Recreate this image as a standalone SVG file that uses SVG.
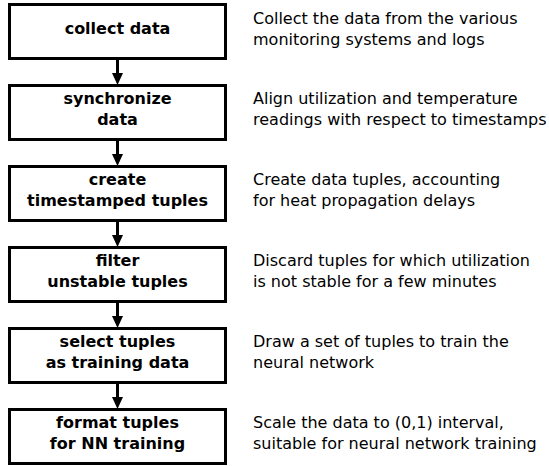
<svg xmlns="http://www.w3.org/2000/svg" width="549" height="466" viewBox="0 0 549 466">
<style>
.box{fill:#fff;stroke:#000;stroke-width:3}
.lbl{font-family:"DejaVu Sans",sans-serif;font-size:16px;font-weight:bold;text-anchor:middle;fill:#000}
.desc{font-family:"DejaVu Sans",sans-serif;font-size:16px;fill:#000}
.conn{stroke:#000;stroke-width:3;fill:none}
</style>
<defs>
<marker id="ah" markerWidth="12" markerHeight="11" refX="0" refY="5.5" orient="auto" markerUnits="userSpaceOnUse" viewBox="0 0 12 11">
<path d="M0,0 L12,5.5 L0,11 z" fill="#000"/>
</marker>
</defs>
<rect width="549" height="466" fill="#fff"/>
<g id="connectors">
<line class="conn" x1="117.5" y1="58.5" x2="117.5" y2="73" marker-end="url(#ah)"/>
<line class="conn" x1="117.5" y1="139.5" x2="117.5" y2="154" marker-end="url(#ah)"/>
<line class="conn" x1="117.5" y1="220.5" x2="117.5" y2="235" marker-end="url(#ah)"/>
<line class="conn" x1="117.5" y1="301.5" x2="117.5" y2="316" marker-end="url(#ah)"/>
<line class="conn" x1="117.5" y1="382.5" x2="117.5" y2="397" marker-end="url(#ah)"/>
</g>
<g id="collect">
<rect class="box" x="9.5" y="4.5" width="216" height="54"/>
<text class="lbl" x="117.5" y="34">collect data</text>
<text class="desc" x="253" y="23.5">Collect the data from the various</text>
<text class="desc" x="253" y="44.5">monitoring systems and logs</text>
</g>
<g id="synchronize">
<rect class="box" x="9.5" y="85.5" width="216" height="54"/>
<text class="lbl" x="117.5" y="104">synchronize</text>
<text class="lbl" x="117.5" y="125">data</text>
<text class="desc" x="253" y="104">Align utilization and temperature</text>
<text class="desc" x="253" y="125">readings with respect to timestamps</text>
</g>
<g id="create">
<rect class="box" x="9.5" y="166.5" width="216" height="54"/>
<text class="lbl" x="117.5" y="185">create</text>
<text class="lbl" x="117.5" y="206">timestamped tuples</text>
<text class="desc" x="253" y="185">Create data tuples, accounting</text>
<text class="desc" x="253" y="206">for heat propagation delays</text>
</g>
<g id="filter">
<rect class="box" x="9.5" y="247.5" width="216" height="54"/>
<text class="lbl" x="117.5" y="266">filter</text>
<text class="lbl" x="117.5" y="287">unstable tuples</text>
<text class="desc" x="253" y="266">Discard tuples for which utilization</text>
<text class="desc" x="253" y="287">is not stable for a few minutes</text>
</g>
<g id="select">
<rect class="box" x="9.5" y="328.5" width="216" height="54"/>
<text class="lbl" x="117.5" y="347">select tuples</text>
<text class="lbl" x="117.5" y="368">as training data</text>
<text class="desc" x="253" y="347">Draw a set of tuples to train the</text>
<text class="desc" x="253" y="368">neural network</text>
</g>
<g id="format">
<rect class="box" x="9.5" y="409.5" width="216" height="54"/>
<text class="lbl" x="117.5" y="428">format tuples</text>
<text class="lbl" x="117.5" y="449">for NN training</text>
<text class="desc" x="253" y="428">Scale the data to (0,1) interval,</text>
<text class="desc" x="253" y="449">suitable for neural network training</text>
</g>
</svg>
